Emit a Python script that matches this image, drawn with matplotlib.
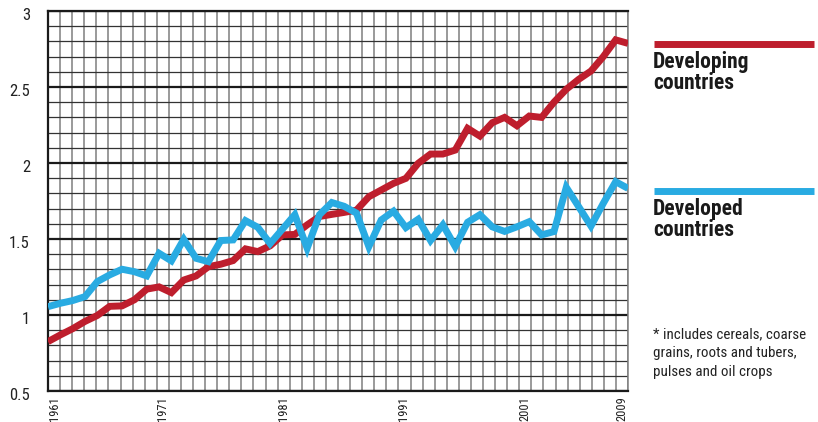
import matplotlib.pyplot as plt
import matplotlib.transforms as mtransforms
from matplotlib import font_manager
from matplotlib.lines import Line2D
from matplotlib.ticker import MultipleLocator

# the original uses a condensed sans; take the narrowest one that is installed
def narrow_font():
    fonts = font_manager.fontManager.ttflist
    names = {f.name for f in fonts}
    for name in ['Liberation Sans Narrow', 'Noto Sans Condensed', 'DejaVu Sans Condensed',
                 'Roboto Condensed', 'Open Sans Condensed']:
        if name in names:
            return name, 'normal'
    for f in fonts:
        if f.stretch in ('condensed', 'semi-condensed') and f.name in ('Noto Sans', 'DejaVu Sans', 'Open Sans', 'Roboto'):
            return f.name, f.stretch
    return 'Roboto', 'normal'

font_name, font_stretch = narrow_font()
plt.rcParams['font.family'] = [font_name, 'DejaVu Sans']
plt.rcParams['font.stretch'] = font_stretch

# one value per year; the original stretches them over the 1961-2009 grid
years = list(range(1961, 2009))
developing = [0.825, 0.869, 0.91, 0.958, 0.997, 1.057, 1.06, 1.10, 1.17, 1.185,
              1.147, 1.23, 1.257, 1.318, 1.334, 1.358, 1.435, 1.417, 1.455, 1.527,
              1.53, 1.593, 1.648, 1.662, 1.675, 1.69, 1.778, 1.822, 1.866, 1.899,
              1.998, 2.059, 2.059, 2.085, 2.228, 2.177, 2.265, 2.30, 2.245, 2.309,
              2.30, 2.40, 2.485, 2.55, 2.605, 2.70, 2.81, 2.787]
developed = [1.055, 1.077, 1.095, 1.121, 1.22, 1.264, 1.301, 1.285, 1.257, 1.406,
             1.356, 1.498, 1.373, 1.351, 1.49, 1.494, 1.621, 1.577, 1.47, 1.565,
             1.66, 1.439, 1.66, 1.74, 1.715, 1.67, 1.45, 1.625, 1.683, 1.575,
             1.63, 1.49, 1.593, 1.45, 1.61, 1.66, 1.58, 1.55, 1.58, 1.614,
             1.527, 1.549, 1.84, 1.713, 1.585, 1.735, 1.877, 1.833]

tick_years = [1961, 1971, 1981, 1991, 2001, 2009]
y_ticks = [0.5, 1, 1.5, 2, 2.5, 3]
y_labels = ['0.5', '1', '1.5', '2', '2.5', '3']

red = '#be1e2d'
blue = '#29abe2'
dark = '#1a1a1a'
grey = '#7f7f7f'

fig = plt.figure(figsize=(8.18, 4.22), dpi=100)
ax = fig.add_axes([48 / 818, 1 - 391 / 422, 580 / 818, 380 / 422])
ax.set_xlim(1961, 2009)
ax.set_ylim(0.5, 3)

# graph-paper grid
ax.xaxis.set_minor_locator(MultipleLocator(1))
ax.yaxis.set_minor_locator(MultipleLocator(0.1))
ax.set_xticks(tick_years)
ax.set_xticklabels([str(y) for y in tick_years], rotation=90, fontsize=9)
ax.set_yticks(y_ticks)
ax.set_yticklabels(y_labels, fontsize=12, color='#222222')
ax.grid(which='both', axis='x', color=grey, lw=1.1)
ax.grid(which='minor', axis='y', color='#333333', lw=0.9)
ax.grid(which='major', axis='y', color=dark, lw=1.6)
ax.tick_params(which='both', length=0)
ax.tick_params(axis='y', pad=13)
ax.tick_params(axis='x', pad=4)
ax.set_axisbelow(True)
for side in ['top', 'left', 'bottom']:
    ax.spines[side].set_color(dark)
    ax.spines[side].set_linewidth(1.6)
ax.spines['right'].set_color(grey)
ax.spines['right'].set_linewidth(1.1)

for i, lab in enumerate(ax.get_xticklabels()):
    lab.set_ha('left' if i == 0 else 'right')
    lab.set_color('#222222')
shift = mtransforms.ScaledTranslation(0, -2.5 / 100, fig.dpi_scale_trans)
for lab in ax.get_yticklabels():
    lab.set_transform(lab.get_transform() + shift)

# data lines
axd = ax.twiny()
axd.set_xlim(years[0], years[-1])
axd.axis('off')
axd.plot(years, developing, color=red, lw=5, solid_joinstyle='miter', solid_capstyle='butt')
axd.plot(years, developed, color=blue, lw=5, solid_joinstyle='miter', solid_capstyle='butt')

# legend on the right
fig.add_artist(Line2D([654 / 818, 814 / 818], [1 - 43.5 / 422] * 2, color=red, lw=5,
                      solid_capstyle='butt', transform=fig.transFigure))
fig.add_artist(Line2D([654 / 818, 814 / 818], [1 - 190.5 / 422] * 2, color=blue, lw=5,
                      solid_capstyle='butt', transform=fig.transFigure))
fig.text(653 / 818, 1 - 51 / 422, 'Developing\ncountries', fontsize=15.5, fontweight='bold',
         color='#1a1a1a', va='top', ha='left', linespacing=0.95)
fig.text(653 / 818, 1 - 198 / 422, 'Developed\ncountries', fontsize=15.5, fontweight='bold',
         color='#1a1a1a', va='top', ha='left', linespacing=0.95)
fig.text(653 / 818, 1 - 327 / 422, '* includes cereals, coarse\ngrains, roots and tubers,\npulses and oil crops',
         fontsize=10.8, color='#222222', va='top', ha='left', linespacing=1.45)

fig.savefig('out.png', dpi=100)
